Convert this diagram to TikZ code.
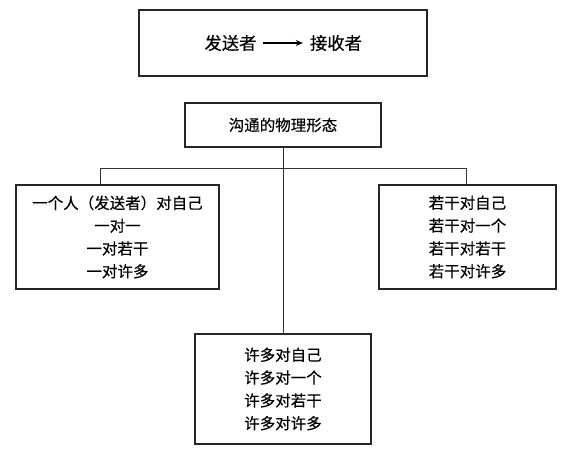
\documentclass[tikz,border=0pt]{standalone}
\usepackage{fontspec}
\setmainfont[FakeBold=0.3]{Noto Sans CJK SC}
\usetikzlibrary{arrows.meta}
\begin{document}
\begin{tikzpicture}[x=1pt,y=-1pt,
  box/.style={draw=black!85,line width=1.4pt,inner sep=0pt},
  conn/.style={draw=black!80,line width=0.9pt},
  txt/.style={font=\fontsize{15.5}{22.8}\selectfont,align=center,inner sep=0pt}]
\useasboundingbox (0,0) rectangle (566,459);
% top box
\draw[box] (139,10) rectangle (427,76);
\node[font=\fontsize{17.3}{20}\selectfont,inner sep=0pt] (snd) at (230.5,43) {发送者};
\node[font=\fontsize{17.3}{20}\selectfont,inner sep=0pt] (rcv) at (336,43) {接收者};
\draw[line width=1.3pt,-{Stealth[length=7pt,width=6pt]}] ([xshift=6pt]snd.east) -- ([xshift=-7pt]rcv.west);
% second box
\node[box,minimum width=196pt,minimum height=44pt,txt] (root) at (283,125) {沟通的物理形态};
% left box
\node[box,minimum width=203pt,minimum height=104pt,txt] (left) at (117.5,237) {一个人（发送者）对自己\\一对一\\一对若干\\一对许多};
% right box
\node[box,minimum width=177pt,minimum height=104pt,txt] (right) at (467.5,237) {若干对自己\\若干对一个\\若干对若干\\若干对许多};
% bottom box
\node[box,minimum width=176pt,minimum height=110pt,txt] (bot) at (283,389) {许多对自己\\许多对一个\\许多对若干\\许多对许多};
% connectors
\coordinate (hl) at (100,168);
\coordinate (hr) at (466,168);
\draw[conn] (root.south) -- (bot.north);
\draw[conn] (left.north -| hl) -- (hl) -- (hr) -- (right.north -| hr);
\end{tikzpicture}
\end{document}
